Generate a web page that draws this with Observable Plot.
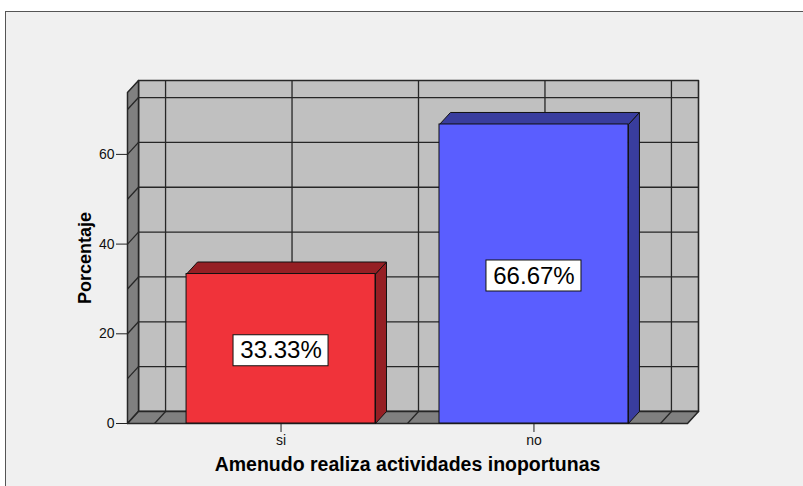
<!DOCTYPE html>
<html><head><meta charset="utf-8">
<script src="https://cdn.jsdelivr.net/npm/d3@7"></script>
<script src="https://cdn.jsdelivr.net/npm/@observablehq/plot@0.6"></script>
<style>
html,body{margin:0;padding:0;background:#fff;}
#wrap{position:relative;width:803px;height:486px;overflow:hidden;}
#panel{position:absolute;left:5px;top:11px;width:900px;height:600px;background:#f0f0f0;border:1px solid #555;}
#chart{position:absolute;left:0;top:0;}
</style></head><body>
<div id="wrap"><div id="panel"></div><div id="chart"></div></div>
<script>
const categories = ["si", "no"];
const values = [33.33, 66.67];
const valueLabels = ["33.33%", "66.67%"];
const yTicks = [0, 20, 40, 60];
const yGrid = [0, 10, 20, 30, 40, 50, 60, 70];
const xGrid = [-0.5, 0, 0.5, 1, 1.5];
const xTitle = "Amenudo realiza actividades inoportunas";
const yTitle = "Porcentaje";
const frontColors = ["#f0333a", "#5a5eff"];
const sideColors = ["#951f24", "#393d9e"];

const W = 803, H = 486, mL = 127, mR = 116, mT = 92, mB = 63;
const X0 = -0.607, X1 = 1.607, YMAX = 73.8;
const kx = (W - mL - mR) / (X1 - X0), ky = (H - mT - mB) / YMAX;
const ox = 11 / kx, oy = 12 / ky;   // 3D depth offset in data units
const half = 0.3735;                 // half bar width (band units)
const bw = 95 / kx, bh = 31 / ky;    // label box size in data units

function poly(id, pts) {
  const out = pts.map(([x, y]) => ({id, x, y}));
  out.push({...out[0]});
  return out;
}
const backWall = poly("back", [[X0 + ox, oy], [X1 + ox, oy], [X1 + ox, YMAX + oy], [X0 + ox, YMAX + oy]]);
const leftWall = poly("left", [[X0, 0], [X0, YMAX], [X0 + ox, YMAX + oy], [X0 + ox, oy]]);
const floor = poly("floor", [[X0, 0], [X1, 0], [X1 + ox, oy], [X0 + ox, oy]]);

const sides = values.flatMap((v, i) => poly(i, [[i + half, 0], [i + half, v], [i + half + ox, v + oy], [i + half + ox, oy]]));
const tops = values.flatMap((v, i) => poly(i, [[i - half, v], [i + half, v], [i + half + ox, v + oy], [i - half + ox, v + oy]]));

const gridCol = "#262626";
const font = "'Liberation Sans', Arial, sans-serif";
const chart = Plot.plot({
  width: W, height: H,
  marginLeft: mL, marginRight: mR, marginTop: mT, marginBottom: mB,
  style: {background: "transparent", fontFamily: font, fontSize: "14px", color: "#222"},
  x: {domain: [X0, X1], axis: null},
  y: {domain: [0, YMAX], axis: null},
  marks: [
    Plot.line(backWall, {x: "x", y: "y", z: "id", fill: "#c0c0c0", stroke: "none"}),
    Plot.ruleY(yGrid, {y: d => d + oy, x1: () => X0 + ox, x2: () => X1 + ox, stroke: gridCol, strokeWidth: 1.3}),
    Plot.ruleX(xGrid, {x: d => d + ox, y1: () => oy, y2: () => YMAX + oy, stroke: gridCol, strokeWidth: 1.3}),
    Plot.line(backWall, {x: "x", y: "y", z: "id", fill: "none", stroke: gridCol, strokeWidth: 1.6}),
    Plot.line(leftWall, {x: "x", y: "y", z: "id", fill: "#808080", stroke: gridCol, strokeWidth: 1.5}),
    Plot.link(yGrid, {x1: () => X0, y1: d => d, x2: () => X0 + ox, y2: d => d + oy, stroke: gridCol, strokeWidth: 1.3}),
    Plot.line(floor, {x: "x", y: "y", z: "id", fill: "#808080", stroke: gridCol, strokeWidth: 1.5}),
    Plot.link(xGrid, {x1: d => d, y1: () => 0, x2: d => d + ox, y2: () => oy, stroke: gridCol, strokeWidth: 1.3}),
    Plot.axisY(yTicks, {tickSize: 11, tickPadding: 2, fontSize: 14, fontFamily: font, label: null, stroke: "#222", fill: "#111"}),
    Plot.axisX([0, 1], {tickSize: 9, tickPadding: 3, fontSize: 14, fontFamily: font, tickFormat: i => categories[i], label: null, stroke: "#222", fill: "#111"}),
    Plot.line(sides, {x: "x", y: "y", z: "id", fill: d => sideColors[d.id], stroke: "#111", strokeWidth: 1}),
    Plot.line(tops, {x: "x", y: "y", z: "id", fill: d => sideColors[d.id], stroke: "#111", strokeWidth: 1}),
    Plot.rect(values, {x1: (d, i) => i - half, x2: (d, i) => i + half, y1: () => 0, y2: d => d, fill: (d, i) => frontColors[i], stroke: "#111", strokeWidth: 1}),
    Plot.rect(values, {x1: (d, i) => i - bw / 2, x2: (d, i) => i + bw / 2, y1: d => d / 2 - bh / 2, y2: d => d / 2 + bh / 2, dy: 2, fill: "white", stroke: "#111", strokeWidth: 1}),
    Plot.text(values, {x: (d, i) => i, y: d => d / 2, dy: 2, text: (d, i) => valueLabels[i], fontSize: 24, fontFamily: font, fill: "#000"}),
    Plot.text([yTitle], {frameAnchor: "left", dx: -42, rotate: -90, textAnchor: "middle", lineAnchor: "middle", text: d => d, fontSize: 18, fontWeight: "bold", fill: "#000"}),
    Plot.text([xTitle], {frameAnchor: "bottom", dy: 41, textAnchor: "middle", lineAnchor: "middle", text: d => d, fontSize: 19.5, fontWeight: "bold", fill: "#000"})
  ]
});
document.getElementById("chart").appendChild(chart);
</script>
</body></html>
